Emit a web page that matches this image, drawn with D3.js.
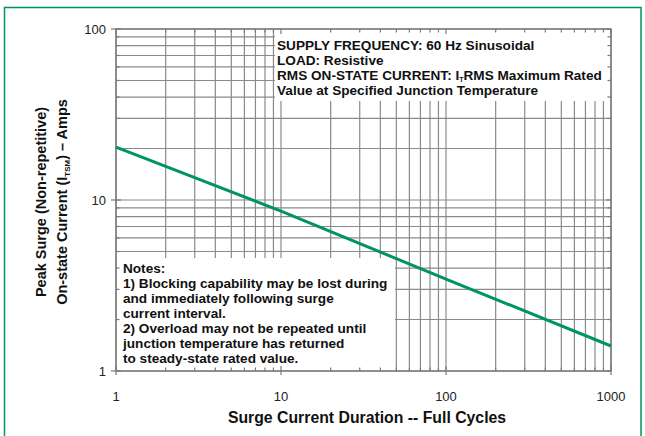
<!DOCTYPE html>
<html><head><meta charset="utf-8">
<script src="https://cdn.jsdelivr.net/npm/d3@7"></script>
<style>
html,body{margin:0;padding:0;background:#fff;}
text{font-family:"Liberation Sans",Arial,sans-serif;}
</style></head>
<body>
<svg id="c" width="645" height="436"></svg>
<script>
// ---- data ----
const cycles = [1, 10, 100, 1000];
const surgeAmps = [20.4, 8.6, 3.45, 1.4];
const xTickLabels = ["1", "10", "100", "1000"];
const yTickValues = [1, 10, 100];
const yTickLabels = ["1", "10", "100"];
const infoLines = [
  "SUPPLY FREQUENCY: 60 Hz Sinusoidal",
  "LOAD: Resistive",
  "RMS ON-STATE CURRENT: I|T|RMS Maximum Rated",
  "Value at Specified Junction Temperature"
];
const noteLines = [
  "Notes:",
  "1) Blocking capability may be lost during",
  "and immediately following surge",
  "current interval.",
  "2) Overload may not be repeated until",
  "junction temperature has returned",
  "to steady-state rated value."
];
const xTitle = "Surge Current Duration -- Full Cycles";
const yTitle1 = "Peak Surge (Non-repetitive)";

const svg = d3.select("#c");
const green = "#00955e";
const gridC = "#8a8a8a";
const L = 116, R = 611, T = 29, B = 371;
const x = d3.scaleLog().domain([1, 1000]).range([L, R]);
const y = d3.scaleLog().domain([1, 100]).range([B, T]);

// frame
svg.append("path").attr("d", "M4.5,436 L4.5,7.5 L641,7.5 L641,436")
  .attr("fill", "none").attr("stroke", green).attr("stroke-width", 1.5);

function minors(lo, hi) {
  const out = [];
  for (let d = lo; d < hi; d *= 10) for (let k = 1; k < 10; k++) out.push(d * k);
  out.push(hi);
  return out;
}
const xv = minors(1, 1000), yv = minors(1, 100);

const g = svg.append("g");
g.selectAll("line.vx").data(xv).join("line")
  .attr("x1", d => x(d)).attr("x2", d => x(d)).attr("y1", T).attr("y2", B)
  .attr("stroke", gridC).attr("stroke-width", 1.2);
g.selectAll("line.hy").data(yv).join("line")
  .attr("x1", L).attr("x2", R).attr("y1", d => y(d)).attr("y2", d => y(d))
  .attr("stroke", gridC).attr("stroke-width", 1.2);

// white boxes
svg.append("rect").attr("x", 275).attr("y", T + 1).attr("width", R - 275 - 1).attr("height", 101 - T - 1).attr("fill", "#fff");
svg.append("rect").attr("x", L + 1).attr("y", 258).attr("width", 395 - L - 1).attr("height", B - 258 - 1).attr("fill", "#fff");

// axes with inward ticks
const isMajor = d => Math.abs(Math.log10(d) - Math.round(Math.log10(d))) < 1e-9;
const tick = svg.append("g").attr("stroke", "#7a7a7a").attr("stroke-width", 1.2);
xv.forEach(d => {
  const len = isMajor(d) ? 5 : 3.5;
  tick.append("line").attr("x1", x(d)).attr("x2", x(d)).attr("y1", T).attr("y2", T + len);
  tick.append("line").attr("x1", x(d)).attr("x2", x(d)).attr("y1", B - len).attr("y2", isMajor(d) ? B + 4 : B);
});
yv.forEach(d => {
  const len = isMajor(d) ? 5 : 3.5;
  tick.append("line").attr("y1", y(d)).attr("y2", y(d)).attr("x1", isMajor(d) ? L - 5 : L).attr("x2", L + len);
  tick.append("line").attr("y1", y(d)).attr("y2", y(d)).attr("x1", R - len).attr("x2", R);
});
svg.append("rect").attr("x", L).attr("y", T).attr("width", R - L).attr("height", B - T)
  .attr("fill", "none").attr("stroke", "#7a7a7a").attr("stroke-width", 1.4);

// tick labels
svg.append("g").selectAll("text").data(cycles).join("text")
  .attr("x", d => x(d)).attr("y", 401).attr("text-anchor", "middle")
  .attr("font-size", 13).attr("fill", "#222").text((d, i) => xTickLabels[i]);
svg.append("g").selectAll("text").data(yTickValues).join("text")
  .attr("x", 106).attr("y", d => y(d) + 4.5).attr("text-anchor", "end")
  .attr("font-size", 13).attr("fill", "#222").text((d, i) => yTickLabels[i]);

// curve
const line = d3.line().x((d, i) => x(cycles[i])).y(d => y(d));
svg.append("path").datum(surgeAmps).attr("d", line)
  .attr("fill", "none").attr("stroke", green).attr("stroke-width", 3);

// info text
const info = svg.append("g").attr("font-weight", "bold").attr("font-size", 13.6).attr("fill", "#111");
infoLines.forEach((s, i) => {
  const t = info.append("text").attr("x", 277).attr("y", 50 + i * 15);
  const parts = s.split("|");
  if (parts.length === 3) {
    t.append("tspan").text(parts[0]);
    t.append("tspan").attr("font-size", 7).attr("dy", 2).text(parts[1]);
    t.append("tspan").attr("dy", -2).text(parts[2]);
  } else t.text(s);
});

// notes
const notes = svg.append("g").attr("font-weight", "bold").attr("fill", "#111")
  .attr("font-family", "'DejaVu Sans',sans-serif");
noteLines.forEach((s, i) => {
  notes.append("text").attr("x", 123).attr("y", 273 + i * 15).attr("font-size", 13.6).text(s);
});

// axis titles
svg.append("text").attr("x", 367).attr("y", 423).attr("text-anchor", "middle")
  .attr("font-weight", "bold").attr("font-size", 15.8).attr("fill", "#111").text(xTitle);
const yt = svg.append("g").attr("transform", "translate(46,202) rotate(-90)")
  .attr("font-weight", "bold").attr("font-size", 14.5).attr("fill", "#111").attr("text-anchor", "middle");
yt.append("text").attr("y", 0).text(yTitle1);
const t2 = yt.append("text").attr("y", 21);
t2.append("tspan").text("On-state Current (I");
t2.append("tspan").attr("font-size", 8).attr("dy", 3).text("TSM");
t2.append("tspan").attr("dy", -3).text(") \u2013 Amps");
</script>
</body></html>
